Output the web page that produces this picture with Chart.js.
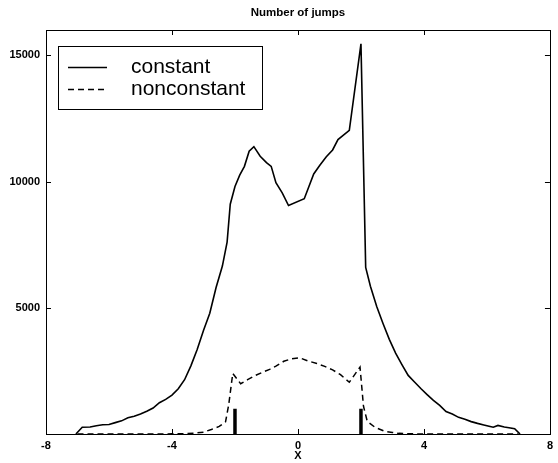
<!DOCTYPE html>
<html lang="en">
<head>
    <meta charset="UTF-8">
    <title>Number of jumps</title>
    <script src="https://cdn.jsdelivr.net/npm/chart.js"></script>
    <style>
        body { margin: 0; background: #fff; }
        canvas { display: block; }
    </style>
</head>
<body>
    <canvas id="jumpsChart" width="558" height="463"></canvas>
    <script>
        // Jump counts along X, constant vs nonconstant case
        const constX = [-7.05, -6.85, -6.6, -6.4, -6.2, -6.0, -5.8, -5.6, -5.4, -5.2, -5.0, -4.8, -4.6, -4.4, -4.2, -4.0,
            -3.8, -3.6, -3.4, -3.2, -3.0, -2.8, -2.6, -2.4, -2.25, -2.15, -2.0, -1.85, -1.7, -1.55, -1.4, -1.2,
            -1.0, -0.85, -0.7, -0.5, -0.3, 0.2, 0.5, 0.7, 0.9, 1.1, 1.27, 1.63, 2.0, 2.15, 2.3, 2.5, 2.7, 2.9,
            3.1, 3.3, 3.5, 3.7, 3.9, 4.1, 4.3, 4.5, 4.7, 4.9, 5.1, 5.3, 5.5, 5.7, 5.9, 6.1, 6.2, 6.35, 6.55, 6.7, 6.88, 7.05];
        const constY = [0, 270, 275, 330, 365, 375, 450, 520, 640, 700, 790, 900, 1030, 1240, 1370, 1540,
            1790, 2150, 2700, 3350, 4100, 4780, 5800, 6650, 7600, 9100, 9800, 10250, 10600, 11200, 11380, 11000,
            10750, 10600, 9950, 9550, 9050, 9320, 10300, 10650, 10980, 11250, 11660, 12030, 15450, 6600, 5850, 5050, 4380, 3750,
            3200, 2750, 2320, 2060, 1800, 1560, 1330, 1130, 890, 790, 660, 580, 490, 420, 360, 300, 270, 340, 275, 250, 206, 0];

        const nonconstX = [-7.0, -5.0, -4.0, -3.6, -3.3, -3.0, -2.75, -2.5, -2.3, -2.2, -2.07, -1.82, -1.6, -1.35, -1.1, -0.9,
            -0.7, -0.45, -0.2, 0.05, 0.3, 0.6, 0.85, 1.1, 1.35, 1.63, 1.97, 2.08, 2.2, 2.45, 2.75, 3.0, 3.2, 3.5, 4.0, 7.0];
        const nonconstY = [0, 0, 5, 15, 35, 70, 180, 300, 480, 1150, 2400, 1990, 2150, 2320, 2460, 2560,
            2690, 2880, 2980, 3020, 2900, 2790, 2680, 2540, 2350, 2050, 2650, 1100, 500, 260, 110, 60, 25, 8, 0, 0];

        // vertical markers at the interface positions
        const markX = [-2, 2];
        const markH = [1000, 1000];

        const xTicks = [-8, -4, 0, 4, 8];
        const yTicks = [5000, 10000, 15000];
        const seriesNames = ['constant', 'nonconstant'];

        const FONT = '"Liberation Sans", Arial, Helvetica, sans-serif';

        function toPoints(xs, ys) {
            return xs.map((x, i) => ({ x: x, y: ys[i] }));
        }

        const datasets = [
            {
                label: seriesNames[0],
                data: toPoints(constX, constY),
                borderColor: '#000',
                borderWidth: 1.6,
                pointRadius: 0,
                tension: 0
            },
            {
                label: seriesNames[1],
                data: toPoints(nonconstX, nonconstY),
                borderColor: '#000',
                borderWidth: 1.5,
                borderDash: [6, 4],
                pointRadius: 0,
                tension: 0
            }
        ];
        markX.forEach((x, i) => {
            datasets.push({
                label: 'mark' + i,
                data: [{ x: x, y: 0 }, { x: x, y: markH[i] }],
                borderColor: '#000',
                borderWidth: 3.5,
                borderCapStyle: 'butt',
                pointRadius: 0
            });
        });

        // box, inward ticks, title and legend the way the old plot had them
        const framePlugin = {
            id: 'frame',
            afterDraw(chart) {
                const ctx = chart.ctx;
                const a = chart.chartArea;
                const xs = chart.scales.x, ys = chart.scales.y;
                const tl = 5;
                ctx.save();
                ctx.strokeStyle = '#000';
                ctx.lineWidth = 1;
                ctx.setLineDash([]);
                ctx.strokeRect(Math.round(a.left) + 0.5, Math.round(a.top) + 0.5,
                    Math.round(a.right - a.left), Math.round(a.bottom - a.top));
                ctx.beginPath();
                xTicks.forEach(v => {
                    const px = Math.round(xs.getPixelForValue(v)) + 0.5;
                    ctx.moveTo(px, a.bottom); ctx.lineTo(px, a.bottom - tl);
                    ctx.moveTo(px, a.top); ctx.lineTo(px, a.top + tl);
                });
                yTicks.forEach(v => {
                    const py = Math.round(ys.getPixelForValue(v)) + 0.5;
                    ctx.moveTo(a.left, py); ctx.lineTo(a.left + tl, py);
                    ctx.moveTo(a.right, py); ctx.lineTo(a.right - tl, py);
                });
                ctx.stroke();

                // title
                ctx.fillStyle = '#000';
                ctx.font = 'bold 11.5px ' + FONT;
                ctx.textAlign = 'center';
                ctx.textBaseline = 'middle';
                ctx.fillText('Number of jumps', (a.left + a.right) / 2, 13);

                // legend
                const bx = 58.5, by = 46.5, bw = 204, bh = 63;
                ctx.fillStyle = '#fff';
                ctx.fillRect(bx, by, bw, bh);
                ctx.strokeRect(bx, by, bw, bh);
                const rows = [67.5, 89.5];
                ctx.font = '21px ' + FONT;
                ctx.textAlign = 'left';
                rows.forEach((ry, i) => {
                    const ds = chart.data.datasets[i];
                    ctx.beginPath();
                    ctx.lineWidth = ds.borderWidth;
                    ctx.setLineDash(ds.borderDash || []);
                    ctx.moveTo(68, ry); ctx.lineTo(107, ry);
                    ctx.stroke();
                    ctx.setLineDash([]);
                    ctx.fillStyle = '#000';
                    ctx.fillText(ds.label, 131, ry);
                });
                ctx.restore();
            }
        };

        new Chart(document.getElementById('jumpsChart'), {
            type: 'line',
            data: { datasets: datasets },
            options: {
                responsive: false,
                animation: false,
                devicePixelRatio: 1,
                layout: { padding: { top: 30, right: 4, left: 0, bottom: 0 } },
                plugins: {
                    legend: { display: false },
                    title: { display: false },
                    tooltip: { enabled: false }
                },
                scales: {
                    x: {
                        type: 'linear',
                        min: -8,
                        max: 8,
                        afterBuildTicks: s => { s.ticks = xTicks.map(v => ({ value: v })); },
                        afterFit: s => { s.height = 29; },
                        grid: { display: false, drawTicks: false },
                        border: { display: false },
                        ticks: {
                            color: '#000',
                            font: { family: FONT, size: 11, weight: 'bold' },
                            padding: 5,
                            maxRotation: 0,
                            callback: v => String(v)
                        },
                        title: {
                            display: true,
                            text: 'X',
                            color: '#000',
                            font: { family: FONT, size: 11, weight: 'bold' },
                            padding: { top: 0, bottom: 0 }
                        }
                    },
                    y: {
                        type: 'linear',
                        min: 0,
                        max: 16000,
                        afterBuildTicks: s => { s.ticks = yTicks.map(v => ({ value: v })); },
                        afterFit: s => { s.width = 46; },
                        grid: { display: false, drawTicks: false },
                        border: { display: false },
                        ticks: {
                            color: '#000',
                            font: { family: FONT, size: 11, weight: 'bold' },
                            padding: 6,
                            callback: v => String(v)
                        }
                    }
                }
            },
            plugins: [framePlugin]
        });
    </script>
</body>
</html>
